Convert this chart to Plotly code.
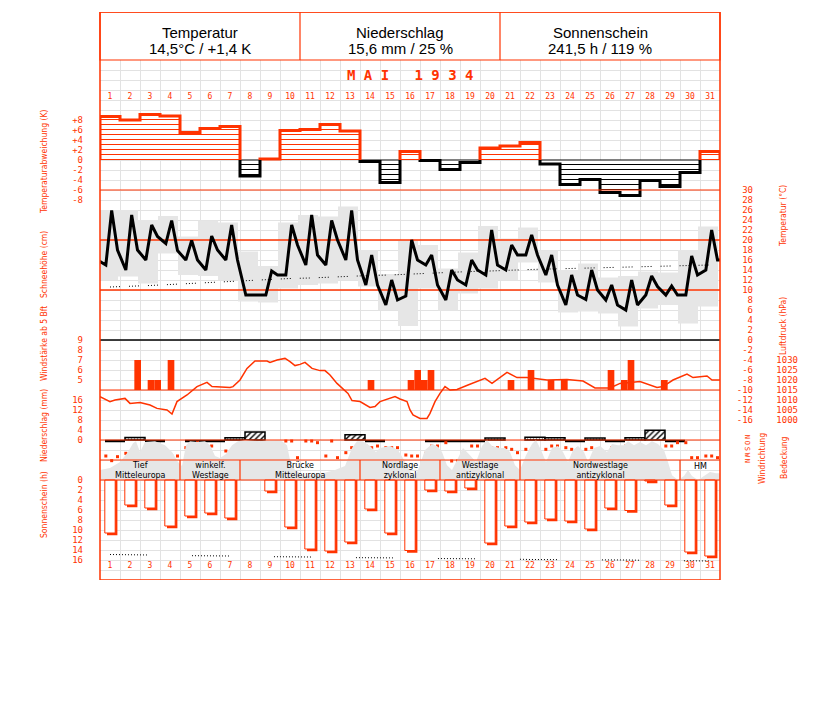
import plotly.graph_objects as go

# ---------------------------------------------------------------- data
days = list(range(1, 32))

header_titles = ["Temperatur", "Niederschlag", "Sonnenschein"]
header_values = ["14,5°C / +1,4 K", "15,6 mm / 25 %", "241,5 h / 119 %"]
month_title = "M A I   1 9 3 4"

# daily temperature deviation (K)
temp_dev = [8.7, 8.0, 9.1, 8.8, 5.5, 6.3, 6.7, -3.2, 0.2, 5.9, 6.1, 7.1, 5.8, -0.3, -4.5, 1.7,
            -0.1, -1.9, -0.5, 2.4, 2.8, 3.5, -0.8, -4.9, -3.9, -6.5, -7.1, -4.1, -5.3, -2.5, 1.7]

# temperature at the 7h / 14h / 21h observations (°C)
obs_hours = [7, 14, 21]
temp_7h = [15.0, 14.0, 16.0, 19.3, 16.0, 14.0, 16.0, 9.0, 9.0, 13.0, 15.0, 15.0, 16.0, 11.0, 7.0, 8.8,
           15.0, 8.0, 11.0, 13.0, 14.0, 17.0, 13.0, 7.0, 8.1, 8.0, 6.0, 9.0, 9.0, 9.0, 14.0]
temp_14h = [25.9, 25.0, 23.0, 23.9, 19.9, 20.8, 23.0, 9.0, 13.8, 23.0, 25.0, 23.9, 25.9, 17.0, 12.0, 20.0,
            17.0, 14.0, 16.0, 22.0, 19.0, 21.0, 17.0, 13.0, 14.0, 11.0, 12.0, 12.8, 10.8, 16.8, 22.0]
temp_21h = [18.0, 18.0, 20.7, 17.9, 16.0, 18.0, 16.0, 9.0, 13.0, 19.0, 17.0, 20.0, 16.0, 11.0, 8.0, 16.0,
            11.0, 12.0, 14.0, 15.0, 17.0, 17.0, 11.0, 9.0, 10.0, 7.0, 7.0, 10.7, 9.0, 13.0, 16.0]
temp_prev_21h = 16.9   # 30 April, 21h
temp_next_7h = 16.0    # 1 June, 7h

# daily extremes (°C)
temp_max = [26.0, 26.0, 24.0, 24.8, 20.7, 23.9, 23.5, 17.7, 14.8, 23.5, 25.0, 24.7, 26.7, 18.0, 13.2, 20.0,
            19.0, 14.3, 17.5, 22.8, 20.3, 22.5, 17.9, 14.0, 15.3, 12.5, 12.8, 13.7, 13.5, 18.0, 22.7]
temp_min = [12.0, 12.7, 11.3, 17.3, 13.0, 12.8, 12.0, 7.7, 7.5, 10.3, 11.0, 11.3, 12.0, 10.7, 6.0, 2.8,
            10.3, 5.9, 9.3, 10.3, 12.0, 15.5, 11.5, 5.5, 5.7, 5.3, 2.7, 6.3, 7.0, 3.3, 6.7]

# long-term mean daily temperature (°C)
temp_clim = [10.6, 10.7, 10.9, 11.1, 11.3, 11.5, 11.8, 12.0, 12.1, 12.3, 12.4, 12.6, 12.7, 12.9, 13.0, 13.2,
             13.3, 13.5, 13.7, 13.8, 14.0, 14.1, 14.2, 14.3, 14.3, 14.4, 14.6, 14.7, 14.8, 14.9, 15.0]
temp_ref_levels = [10, 20]
temp_zero = 0

# wind force >= 5 Bft (day, third of day, Bft)
wind_day = [2, 3, 3, 4, 14, 16, 16, 17, 17, 21, 22, 23, 24, 26, 27, 27, 29]
wind_slot = [3, 2, 3, 2, 2, 2, 3, 1, 2, 2, 2, 2, 1, 2, 1, 2, 1]
wind_bft = [7, 5, 5, 7, 5, 5, 6, 5, 6, 5, 6, 5, 5, 6, 5, 7, 5]

# air pressure (hPa) along the month
pres_pos = [0.5, 1.0, 1.25, 1.75, 2.0, 2.5, 3.0, 3.35, 3.85, 4.1, 4.35, 4.85, 5.35, 5.85, 6.1, 7.0, 7.15,
            7.5, 7.85, 8.25, 8.85, 9.0, 9.35, 9.75, 10.0, 10.25, 10.5, 10.75, 11.1, 11.5, 11.75, 12.0,
            12.35, 12.65, 12.9, 13.1, 13.5, 14.0, 14.25, 14.5, 15.25, 15.5, 15.85, 16.0, 16.15, 16.5,
            16.85, 17.0, 17.25, 17.5, 17.75, 18.0, 18.35, 18.9, 19.75, 20.1, 20.85, 21.35, 21.85, 22.85,
            23.85, 24.65, 25.25, 26.0, 26.5, 27.5, 28.35, 28.65, 29.15, 29.85, 30.15, 30.85, 31.1, 31.5]
pres_hpa = [1011.7, 1009.2, 1010.0, 1010.8, 1008.3, 1008.8, 1007.5, 1005.8, 1005.0, 1003.0, 1009.2,
            1012.5, 1016.7, 1018.8, 1016.7, 1016.3, 1016.7, 1020.0, 1025.8, 1029.5, 1029.5, 1028.8,
            1030.0, 1030.8, 1029.2, 1027.2, 1027.8, 1028.8, 1025.8, 1024.7, 1024.7, 1022.5, 1018.3,
            1015.8, 1013.3, 1009.7, 1009.2, 1006.3, 1006.7, 1009.2, 1011.7, 1010.5, 1009.2, 1005.0,
            1002.5, 1000.8, 1000.8, 1003.3, 1009.2, 1013.3, 1016.7, 1015.0, 1015.3, 1017.5, 1020.8,
            1018.3, 1023.8, 1021.2, 1021.2, 1020.0, 1020.3, 1019.5, 1016.0, 1016.0, 1018.3, 1019.2,
            1016.3, 1016.7, 1020.0, 1023.0, 1021.2, 1022.0, 1020.0, 1020.0]

# precipitation (mm); 0.0 = trace, None = dry
precip = [0.0, 1.0, 0.0, None, 0.0, 0.0, 0.9, 3.2, None, None, None, None, 2.1, 0.0, None, None,
          0.0, 0.0, 0.0, 0.8, None, 1.1, 0.9, 0.0, 0.8, 0.0, 0.9, 3.9, 0.0, None, None]

# wind direction (degrees) at 7h / 14h / 21h
wdir_7h = [270, 230, 230, 270, 145, 120, 195, 120, 145, 45, 45, 270, 220, 120, 145, 255,
           230, 70, 295, 220, 145, 170, 170, 145, 170, 270, 120, 145, 120, 70, 270]
wdir_14h = [340, 295, 270, 270, 145, 120, 270, 120, 340, 45, 45, 45, 145, 145, 145, 270,
            120, 345, 120, 145, 170, 170, 120, 170, 145, 145, 145, 145, 120, 295, 270]
wdir_21h = [280, 295, 295, 270, 70, None, 270, 145, 340, 295, 70, 295, 145, 120, 145, 270,
            120, 345, 120, 145, 220, 145, 120, 170, 355, 145, 120, 145, 70, 295, 295]
wdir_ticks = [0, 90, 180, 270, 360]
wdir_labels = ["N", "O", "S", "W", "N"]

# cloud cover (%)
cloud_pos = [0.5, 1.0, 1.5, 1.9, 2.15, 2.3, 2.5, 2.75, 3.25, 3.75, 4.1, 4.4, 4.6, 4.8, 5.0, 5.35, 5.75,
             6.0, 6.25, 6.5, 6.8, 7.1, 7.4, 7.75, 8.5, 9.0, 9.6, 9.85, 10.0, 10.25, 10.75, 11.5, 12.25,
             12.75, 13.1, 13.35, 13.65, 14.0, 14.3, 14.5, 15.0, 15.4, 15.7, 16.0, 16.2, 16.4, 16.75,
             17.1, 17.35, 17.6, 17.85, 18.1, 18.4, 18.65, 19.0, 19.3, 19.6, 19.85, 20.1, 20.5, 20.75,
             21.0, 21.25, 21.5, 21.8, 22.1, 22.3, 22.55, 22.8, 23.1, 23.4, 23.65, 23.9, 24.15, 24.4,
             24.7, 24.9, 25.2, 25.5, 25.85, 26.1, 26.4, 26.7, 26.9, 27.2, 27.5, 27.8, 28.1, 28.4, 28.7,
             28.9, 29.1, 29.4, 29.7, 29.9, 30.1, 30.4, 30.7, 31.0, 31.3, 31.5]
cloud_pct = [25, 30, 45, 70, 92, 97, 70, 95, 97, 87, 70, 45, 35, 87, 97, 95, 97, 87, 60, 55, 65, 87, 97,
             100, 97, 100, 97, 87, 50, 25, 10, 15, 25, 35, 80, 97, 97, 85, 70, 80, 85, 75, 50, 25, 5, 25,
             75, 90, 85, 70, 37, 25, 55, 80, 62, 45, 85, 100, 85, 80, 80, 70, 37, 25, 62, 90, 100, 75, 45,
             80, 85, 70, 45, 75, 85, 70, 45, 80, 85, 70, 90, 87, 87, 97, 87, 95, 87, 97, 90, 75, 45, 12, 0,
             10, 25, 10, 0, 10, 20, 17, 17]

# weather types (Großwetterlagen)
wt_first = [1, 5, 8, 14, 18, 22, 30]
wt_last = [4, 7, 13, 17, 21, 29, 31]
wt_line1 = ["Tief", "winkelf.", "Brücke", "Nordlage", "Westlage", "Nordwestlage", "HM"]
wt_line2 = ["Mitteleuropa", "Westlage", "Mitteleuropa", "zyklonal", "antizyklonal", "antizyklonal", ""]

# sunshine duration (h) and astronomically possible duration (h)
sunshine = [10.6, 5.0, 5.6, 9.2, 7.2, 6.6, 7.6, 0.0, 2.2, 9.4, 13.8, 14.2, 12.4, 5.8, 10.6, 14.1,
            2.0, 2.2, 1.6, 12.6, 9.2, 8.4, 7.8, 8.2, 9.8, 5.6, 6.1, 0.2, 5.0, 14.4, 15.2]
sun_possible = [14.9, 14.9, 15.0, 15.1, 15.1, 15.2, 15.2, 15.3, 15.3, 15.4, 15.4, 15.5, 15.5, 15.6, 15.6,
                15.6, 15.7, 15.7, 15.8, 15.8, 15.8, 15.9, 15.9, 15.9, 16.0, 16.0, 16.0, 16.1, 16.1, 16.1, 16.2]

# tick labels
dev_ticks = [8, 6, 4, 2, 0, -2, -4, -6, -8]
dev_labels = ["+8", "+6", "+4", "+2", "0", "-2", "-4", "-6", "-8"]
snow_ticks = [10, 8, 6, 4, 2, 0]
wind_ticks = [9, 8, 7, 6, 5]
precip_ticks = [16, 12, 8, 4, 0]
sun_ticks = [0, 2, 4, 6, 8, 10, 12, 14, 16]
temp_ticks = list(range(30, -17, -2))
pres_ticks = [1030, 1025, 1020, 1015, 1010, 1005, 1000]

left_titles = ["Temperaturabweichung (K)", "Schneehöhe (cm)", "Windstärke ab 5 Bft",
               "Niederschlag (mm)", "Sonnenschein (h)"]
right_titles = ["Temperatur (°C)", "Luftdruck (hPa)", "Windrichtung", "Bedeckung"]

# ---------------------------------------------------------------- layout constants
W, H = 827, 702
PL, PR, PT, PB = 100, 720, 12, 580
RED = "#ff3300"
GRID = "#e2e2e2"
GREY = "#e6e6e6"
MONO = "DejaVu Sans Mono, monospace"
NARROW = "Liberation Sans Narrow, DejaVu Sans Condensed, Arial Narrow, sans-serif"
SANS = "Liberation Sans, Arial, Helvetica, sans-serif"
TICKFONT = dict(family=MONO, size=9, color=RED)


def yrange(v_ref, px_ref, px_per_unit, up=True):
    s = 1 if up else -1
    return [v_ref - s * (PB - px_ref) / px_per_unit, v_ref + s * (px_ref - PT) / px_per_unit]


def dotted(on_px, off_px):
    parts = []
    n = max(1, int(on_px // 3))
    for i in range(n):
        parts += ["1px", "2px"]
    parts[-1] = f"{off_px}px"
    return ",".join(parts)


obs_x = [d - 0.5 + h / 24 for d in days for h in obs_hours]
temp_obs = [v for trip in zip(temp_7h, temp_14h, temp_21h) for v in trip]
wdir_obs = [v for trip in zip(wdir_7h, wdir_14h, wdir_21h) for v in trip]

fig = go.Figure()
common = dict(hoverinfo="skip", showlegend=False)

# grey daily temperature range boxes
fig.add_trace(go.Bar(x=[d - 0.1 for d in days], y=[a - b for a, b in zip(temp_max, temp_min)],
                     base=temp_min, width=1.0, marker=dict(color=GREY, line=dict(width=0)),
                     xaxis="x", yaxis="y3", **common))
# cloud cover
fig.add_trace(go.Scatter(x=cloud_pos, y=cloud_pct, mode="lines", fill="tozeroy", fillcolor=GREY,
                         line=dict(width=0, color=GREY), xaxis="x", yaxis="y9", **common))
# temperature reference lines
for lvl in temp_ref_levels:
    fig.add_trace(go.Scatter(x=[0.5, 31.5], y=[lvl, lvl], mode="lines",
                             line=dict(color=RED, width=1.3), xaxis="x", yaxis="y3", **common))
fig.add_trace(go.Scatter(x=[0.5, 31.5], y=[temp_zero, temp_zero], mode="lines",
                         line=dict(color="black", width=1.3), xaxis="x", yaxis="y3", **common))
# long-term mean
fig.add_trace(go.Scatter(x=days, y=temp_clim, mode="lines",
                         line=dict(color="black", width=1, dash=dotted(13, 9)),
                         xaxis="x", yaxis="y3", **common))
# temperature curve
fig.add_trace(go.Scatter(x=[0.375 - 0.5 + 0.125] + obs_x + [31.5 + 7 / 24],
                         y=[temp_prev_21h] + temp_obs + [temp_next_7h], mode="lines",
                         line=dict(color="black", width=3), xaxis="x", yaxis="y3", **common))

# temperature deviation bars with hatching (top day axis)
fig.add_trace(go.Bar(x=days, y=temp_dev, width=1.0,
                     marker=dict(color="white", line=dict(width=0),
                                 pattern=dict(shape="-", size=5, solidity=0.2, bgcolor="white",
                                              fgcolor=[RED if v >= 0 else "black" for v in temp_dev],
                                              fillmode="replace")),
                     xaxis="x3", yaxis="y2", **common))

# step outlines of the deviation bars
rx, ry, bx, by, zx, zy = [], [], [], [], [], []
n = len(temp_dev)
for i, v in enumerate(temp_dev):
    d = days[i]
    prev = temp_dev[i - 1] if i > 0 else None
    nxt = temp_dev[i + 1] if i + 1 < n else None
    if v >= 0:
        if prev is None or prev < 0:
            rx += [d - 0.5]; ry += [0]
        rx += [d - 0.5, d + 0.5]; ry += [v, v]
        if nxt is None or nxt < 0:
            rx += [d + 0.5, None]; ry += [0, None]
    else:
        if prev is None or prev >= 0:
            bx += [d - 0.5]; by += [0]
            zx += [d - 0.5]; zy += [0]
        bx += [d - 0.5, d + 0.5]; by += [v, v]
        if nxt is None or nxt >= 0:
            bx += [d + 0.5, None]; by += [0, None]
            zx += [d + 0.5, None]; zy += [0, None]
fig.add_trace(go.Scatter(x=zx, y=zy, mode="lines", line=dict(color="black", width=1),
                         xaxis="x3", yaxis="y2", **common))
fig.add_trace(go.Scatter(x=rx, y=ry, mode="lines", line=dict(color=RED, width=3),
                         xaxis="x3", yaxis="y2", **common))
fig.add_trace(go.Scatter(x=bx, y=by, mode="lines", line=dict(color="black", width=3),
                         xaxis="x3", yaxis="y2", **common))

# air pressure
fig.add_trace(go.Scatter(x=pres_pos, y=pres_hpa, mode="lines", line=dict(color=RED, width=1.5),
                         xaxis="x", yaxis="y6", **common))
# wind force bars
fig.add_trace(go.Bar(x=[d + (s - 2) / 3 + 0.05 for d, s in zip(wind_day, wind_slot)],
                     y=[b - 4 for b in wind_bft], base=4, width=1 / 3,
                     marker=dict(color=RED, line=dict(width=0)), xaxis="x", yaxis="y5", **common))

# precipitation
wet_x = [d + 0.25 for d, p in zip(days, precip) if p]
wet_v = [p for p in precip if p]
fig.add_trace(go.Bar(x=wet_x, y=wet_v, width=1.0,
                     marker=dict(color="white", line=dict(color="black", width=1.5),
                                 pattern=dict(shape=["/" if p >= 2 else "." for p in wet_v],
                                              size=[4 if p >= 2 else 3 for p in wet_v],
                                              solidity=0.35, fgcolor="black", bgcolor="white",
                                              fillmode="replace")),
                     xaxis="x", yaxis="y7", **common))
tx, ty = [], []
for d, p in zip(days, precip):
    if p is not None and p == 0.0:
        tx += [d + 0.25 - 0.5, d + 0.25 + 0.5, None]
        ty += [-0.4, -0.4, None]
fig.add_trace(go.Scatter(x=tx, y=ty, mode="lines", line=dict(color="black", width=2.5),
                         xaxis="x", yaxis="y7", **common))

# wind direction dots
fig.add_trace(go.Scatter(x=[x for x, v in zip(obs_x, wdir_obs) if v is not None],
                         y=[v for v in wdir_obs if v is not None], mode="markers",
                         marker=dict(symbol="square", size=3, color=RED, line=dict(width=0)),
                         xaxis="x", yaxis="y8", **common))

# sunshine bars (shadow + white box), bottom day axis
sun_days = [d for d, s in zip(days, sunshine) if s > 0]
sun_vals = [s for s in sunshine if s > 0]
fig.add_trace(go.Bar(x=[d + 0.11 for d in sun_days], y=[s + 0.45 for s in sun_vals], width=0.52,
                     marker=dict(color=RED, line=dict(width=0)), xaxis="x2", yaxis="y10", **common))
fig.add_trace(go.Bar(x=sun_days, y=sun_vals, width=0.52,
                     marker=dict(color="white", line=dict(color=RED, width=1)),
                     xaxis="x2", yaxis="y10", **common))
fig.add_trace(go.Scatter(x=days, y=sun_possible, mode="lines",
                         line=dict(color="black", width=1, dash=dotted(39, 45)),
                         xaxis="x2", yaxis="y10", **common))

# ---------------------------------------------------------------- axes
def free_y(rng, pos_px, tickvals=None, ticktext=None, font=TICKFONT, angle=None):
    ax = dict(overlaying="y", anchor="free", position=pos_px / W, side="left", range=rng,
              showgrid=False, zeroline=False, showline=False, ticks="", fixedrange=True)
    if tickvals is None:
        ax["showticklabels"] = False
    else:
        ax.update(tickmode="array", tickvals=tickvals,
                  ticktext=ticktext if ticktext else [str(t) for t in tickvals], tickfont=font)
        if angle is not None:
            ax["tickangle"] = angle
    return ax


def day_axis(side, pos_px):
    return dict(overlaying="x", anchor="free", position=(PB - pos_px) / (PB - PT), side=side,
                range=[0.5, 31.5], tickmode="array", tickvals=days, ticktext=[str(d) for d in days],
                tickfont=dict(family=MONO, size=8, color=RED), showgrid=False, zeroline=False,
                showline=False, ticks="", fixedrange=True)


fig.update_layout(
    width=W, height=H,
    margin=dict(l=0, r=0, t=PT, b=H - PB, pad=0),
    paper_bgcolor="white", plot_bgcolor="white",
    barmode="overlay",
    xaxis=dict(domain=[PL / W, PR / W], range=[0.5, 31.5], tickmode="array",
               tickvals=[d + 0.5 for d in days[:-1]], showticklabels=False, showgrid=True,
               gridcolor=GRID, gridwidth=1, zeroline=False, showline=False, ticks="", fixedrange=True),
    xaxis2=day_axis("bottom", 559),
    xaxis3=day_axis("top", 101),
    yaxis=dict(range=[PB, PT], tickmode="array", tickvals=list(range(70, PB, 10)),
               showticklabels=False, showgrid=True, gridcolor=GRID, gridwidth=1, zeroline=False,
               showline=False, ticks="", fixedrange=True),
    yaxis2=free_y(yrange(0, 160, 5), 83, dev_ticks, dev_labels),
    yaxis3=free_y(yrange(0, 340, 5), 753, temp_ticks),
    yaxis4=free_y(yrange(0, 290, 5), 83, snow_ticks),
    yaxis5=free_y(yrange(4, 390, 10), 83, wind_ticks),
    yaxis6=free_y(yrange(1015, 390, 2), 798, pres_ticks),
    yaxis7=free_y(yrange(0, 440, 2.5), 83, precip_ticks),
    yaxis8=free_y(yrange(0, 438, 1 / 15, up=False), 752, wdir_ticks, wdir_labels,
                  font=dict(family=MONO, size=7, color=RED), angle=90),
    yaxis9=free_y(yrange(0, 480, 0.4), 83),
    yaxis10=free_y(yrange(0, 480, 5, up=False), 83, sun_ticks),
)

# ---------------------------------------------------------------- frame, header, panel lines
shapes = []
shapes.append(dict(type="rect", xref="paper", yref="y", x0=PL / W, x1=PR / W, y0=PT, y1=60,
                   fillcolor="white", line=dict(color=RED, width=1.2), layer="above"))
for xb in [10.5, 20.5]:
    shapes.append(dict(type="line", xref="x", yref="y", x0=xb, x1=xb, y0=PT, y1=60,
                       line=dict(color=RED, width=1.2), layer="above"))
for yl in [190, 390, 440, 460, 480]:
    shapes.append(dict(type="line", xref="paper", yref="y", x0=PL / W, x1=PR / W, y0=yl, y1=yl,
                       line=dict(color=RED, width=1.2), layer="above"))
for f in wt_first[1:]:
    shapes.append(dict(type="line", xref="x", yref="y", x0=f - 0.5, x1=f - 0.5, y0=460, y1=480,
                       line=dict(color=RED, width=1.2), layer="above"))
shapes.append(dict(type="rect", xref="paper", yref="y", x0=PL / W, x1=PR / W, y0=PT, y1=PB,
                   line=dict(color=RED, width=1.5), layer="above"))
fig.update_layout(shapes=shapes)

ann = []
for i, (t, v) in enumerate(zip(header_titles, header_values)):
    cx = 5.5 + 10 * i
    ann.append(dict(x=cx, y=32, xref="x", yref="y", text=t, showarrow=False,
                    font=dict(family=SANS, size=15, color="black")))
    ann.append(dict(x=cx, y=48, xref="x", yref="y", text=v, showarrow=False,
                    font=dict(family=SANS, size=15, color="black")))
ann.append(dict(x=16, y=75, xref="x", yref="y", text=month_title, showarrow=False,
                font=dict(family=MONO, size=14, color=RED, weight="bold")))
for f, l, t1, t2 in zip(wt_first, wt_last, wt_line1, wt_line2):
    cx = (f + l) / 2
    txt = t1 + ("<br>" + t2 if t2 else "")
    ann.append(dict(x=cx, y=470 if t2 else 466, xref="x", yref="y", text=txt, showarrow=False,
                    font=dict(family="DejaVu Sans, sans-serif", size=8, color="black")))
for t, yc in zip(left_titles, [162, 265, 344, 426, 505]):
    ann.append(dict(x=37 / W, y=yc, xref="paper", yref="y", text=t, showarrow=False, textangle=-90,
                    font=dict(family=NARROW, size=8.5, color=RED)))
for t, xc, yc in zip(right_titles, [790, 790, 769, 791], [216, 326, 459, 458]):
    ann.append(dict(x=xc / W, y=yc, xref="paper", yref="y", text=t, showarrow=False, textangle=-90,
                    font=dict(family=NARROW, size=8.5, color=RED)))
fig.update_layout(annotations=ann)

fig.write_html("out.html", config={"displayModeBar": False},
               post_script="document.body.style.margin='0';")
